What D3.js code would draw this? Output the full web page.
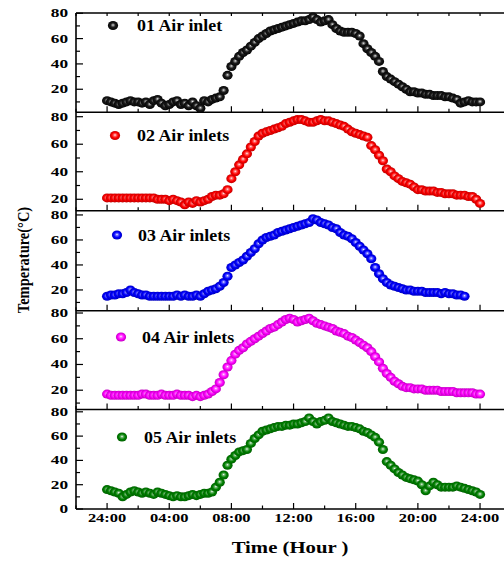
<!DOCTYPE html>
<html>
<head>
<meta charset="utf-8">
<script src="https://cdn.jsdelivr.net/npm/d3@7"></script>
<style>
  html, body { margin: 0; padding: 0; background: #fff; }
  svg { display: block; }
  text { font-family: "Liberation Serif", "Times New Roman", serif; font-weight: bold; fill: #000; }
</style>
</head>
<body>
<svg id="chart" width="504" height="569"></svg>
<script>
// Air temperature over one day, measured with 1 to 5 air inlets (15-minute readings)
const seriesNames = ["01 Air inlet", "02 Air inlets", "03 Air inlets", "04 Air inlets", "05 Air inlets"];
const seriesColors = ["#000000", "#ff0000", "#0000ff", "#ff00ff", "#008000"];

const inlet1 = [
  11, 10, 9, 8,   9, 10, 11, 10,   10, 9, 10, 8,   11, 12, 9, 7,
  8, 10, 11, 8,   9, 7, 10, 7,   5, 11, 10, 12,   13, 14, 19, 31,
  38, 42, 46, 49,   51, 54, 57, 60,   62, 64, 66, 67,   68, 69, 70, 71,
  72, 73, 74, 74,   75, 77, 75, 73,   74, 75, 71, 68,   66, 65, 65, 65,
  64, 62, 56, 52,   49, 46, 42, 34,   30, 28, 26, 24,   22, 20, 18, 18,
  17, 17, 16, 16,   15, 15, 15, 14,   14, 13, 12, 9,   10, 11, 10, 10,
  10
];
const inlet2 = [
  21, 21, 21, 21,   21, 21, 21, 21,   21, 21, 21, 21,   21, 20, 20, 20,
  19, 20, 19, 18,   16, 18, 17, 19,   18, 19, 20, 22,   23, 23, 24, 27,
  35, 40, 45, 49,   53, 58, 62, 66,   68, 69, 70, 71,   72, 73, 75, 76,
  77, 78, 78, 77,   76, 76, 77, 78,   77, 77, 76, 75,   74, 73, 71, 69,
  68, 67, 66, 65,   59, 56, 52, 48,   42, 40, 37, 35,   33, 32, 31, 29,
  27, 27, 26, 26,   26, 25, 25, 24,   24, 24, 23, 23,   23, 22, 22, 20,
  17
];
const inlet3 = [
  15, 16, 16, 17,   17, 18, 20, 18,   17, 16, 16, 15,   15, 15, 15, 15,
  15, 15, 16, 15,   16, 15, 15, 16,   15, 17, 19, 20,   21, 23, 26, 31,
  38, 40, 42, 44,   47, 50, 53, 57,   60, 62, 63, 64,   66, 67, 68, 69,
  70, 71, 72, 73,   74, 77, 76, 74,   73, 72, 70, 69,   66, 64, 63, 61,
  58, 55, 52, 49,   45, 38, 33, 29,   26, 24, 23, 22,   21, 20, 20, 19,
  19, 19, 18, 18,   18, 18, 17, 18,   17, 17, 16, 16,   15
];
const inlet4 = [
  17, 16, 16, 16,   16, 16, 16, 16,   16, 17, 17, 16,   16, 16, 17, 16,
  16, 16, 17, 16,   16, 16, 15, 16,   15, 16, 17, 19,   21, 26, 32, 38,
  43, 48, 51, 53,   56, 58, 60, 62,   64, 66, 68, 69,   71, 73, 75, 76,
  75, 73, 74, 75,   76, 74, 72, 71,   70, 69, 68, 66,   65, 64, 62, 61,
  59, 57, 55, 53,   50, 46, 42, 37,   33, 30, 27, 25,   23, 22, 22, 21,
  21, 21, 20, 20,   20, 20, 19, 19,   19, 19, 18, 18,   18, 18, 18, 17,
  17
];
const inlet5 = [
  16, 15, 14, 13,   10, 12, 14, 15,   14, 13, 14, 13,   12, 14, 13, 12,
  11, 10, 11, 10,   10, 11, 12, 11,   12, 13, 13, 14,   18, 22, 28, 36,
  41, 44, 47, 48,   49, 54, 58, 61,   64, 65, 66, 67,   68, 68, 69, 69,
  70, 70, 71, 72,   75, 72, 70, 72,   73, 75, 72, 71,   70, 69, 68, 68,
  67, 66, 64, 63,   61, 59, 55, 49,   39, 36, 33, 30,   28, 26, 25, 24,
  23, 20, 15, 19,   22, 20, 18, 18,   18, 18, 19, 18,   17, 16, 15, 14,
  12
];
const seriesValues = [inlet1, inlet2, inlet3, inlet4, inlet5];

// time axis: hours after midnight, one reading every quarter hour
const hours = d3.range(0, 24.001, 0.25);
const xTickHours = [0, 4, 8, 12, 16, 20, 24];
const xTickLabels = ["24:00", "04:00", "08:00", "12:00", "16:00", "20:00", "24:00"];
const yTickValues = [0, 20, 40, 60, 80];
const yMinorValues = [10, 30, 50, 70];

// stacked panel layout: pixel bands and value windows
const panelTop = [13, 112.3, 210.7, 310.7, 409.5];
const panelBottom = [112.3, 210.7, 310.7, 409.5, 509];
const panelDomain = [[1.8, 80.2], [11.7, 83.2], [3.4, 83.4], [5, 81.8], [0, 81.9]];
const legendPos = [[113, 25.5, 137, 31], [115, 135.5, 137, 141], [117, 235, 138, 240.5], [121, 337, 142, 342.5], [122, 437, 144, 442.5]];

const svg = d3.select("#chart");
const plotLeft = 76;
const x = d3.scaleLinear().domain([-2, 26]).range([plotLeft, plotLeft + 28 * 15.54]);
const plotRight = 506;

// sphere-shaded marker gradients
const defs = svg.append("defs");
function shade(c, k) { return d3.interpolateRgb(c, k > 0 ? "#ffffff" : "#000000")(Math.abs(k)); }
seriesColors.forEach((c, i) => {
  const g = defs.append("radialGradient").attr("id", "ball" + i)
    .attr("cx", "50%").attr("cy", "50%").attr("r", "55%").attr("fx", "50%").attr("fy", "44%");
  const black = c === "#000000";
  const light = black ? "#8a8a8a" : shade(c, 0.45);
  const mid = black ? "#1c1c1c" : c;
  const dark = black ? "#000000" : shade(c, -0.3);
  g.append("stop").attr("offset", "0%").attr("stop-color", "#ffffff");
  g.append("stop").attr("offset", black ? "16%" : "20%").attr("stop-color", light);
  g.append("stop").attr("offset", black ? "45%" : "55%").attr("stop-color", mid);
  g.append("stop").attr("offset", "100%").attr("stop-color", dark);
});

const rx = 5.1, ry = 4.5;

seriesValues.forEach((vals, i) => {
  const y = d3.scaleLinear().domain(panelDomain[i]).range([panelBottom[i], panelTop[i]]);
  const g = svg.append("g");

  // bottom edge of the panel with inward ticks
  g.append("line").attr("x1", plotLeft).attr("x2", plotRight)
    .attr("y1", panelBottom[i]).attr("y2", panelBottom[i])
    .attr("stroke", "#000").attr("stroke-width", 1.6);
  d3.range(-2, 26.01, 2).forEach(h => {
    const major = h % 4 === 0;
    g.append("line").attr("x1", x(h)).attr("x2", x(h))
      .attr("y1", panelBottom[i]).attr("y2", panelBottom[i] - (major ? 6 : 3.5))
      .attr("stroke", "#000").attr("stroke-width", 1.2);
  });
  if (i === 0) {
    g.append("line").attr("x1", plotLeft).attr("x2", plotRight)
      .attr("y1", panelTop[i]).attr("y2", panelTop[i])
      .attr("stroke", "#000").attr("stroke-width", 1.6);
    d3.range(-2, 26.01, 2).forEach(h => {
      g.append("line").attr("x1", x(h)).attr("x2", x(h))
        .attr("y1", panelTop[i]).attr("y2", panelTop[i] + 3)
        .attr("stroke", "#000").attr("stroke-width", 1.2);
    });
  }

  // left axis ticks and labels
  yTickValues.filter(v => v >= panelDomain[i][0] - 0.01 && v <= panelDomain[i][1]).forEach(v => {
    g.append("line").attr("x1", plotLeft).attr("x2", plotLeft + 7)
      .attr("y1", y(v)).attr("y2", y(v)).attr("stroke", "#000").attr("stroke-width", 1.2);
    g.append("text").attr("text-anchor", "end").attr("dominant-baseline", "central")
      .attr("font-size", 11.5)
      .attr("transform", `translate(68,${y(v)}) scale(1.5,1)`)
      .text(v);
  });
  yMinorValues.filter(v => v >= panelDomain[i][0] && v <= panelDomain[i][1]).forEach(v => {
    g.append("line").attr("x1", plotLeft).attr("x2", plotLeft + 4)
      .attr("y1", y(v)).attr("y2", y(v)).attr("stroke", "#000").attr("stroke-width", 1.2);
  });

  // readings
  g.selectAll("ellipse.pt").data(vals).join("ellipse").attr("class", "pt")
    .attr("cx", (d, k) => x(hours[k])).attr("cy", d => y(d))
    .attr("rx", rx).attr("ry", ry)
    .attr("fill", `url(#ball${i})`);

  // legend entry
  const [mx, my, tx, ty] = legendPos[i];
  g.append("ellipse").attr("cx", mx).attr("cy", my).attr("rx", rx).attr("ry", ry)
    .attr("fill", `url(#ball${i})`);
  g.append("text").attr("font-size", 16)
    .attr("transform", `translate(${tx},${ty}) scale(1.12,1)`)
    .text(seriesNames[i]);
});

// left axis line spanning all panels
svg.append("line").attr("x1", plotLeft).attr("x2", plotLeft)
  .attr("y1", panelTop[0]).attr("y2", panelBottom[4])
  .attr("stroke", "#000").attr("stroke-width", 1.6);

// time labels under the bottom panel
xTickHours.forEach((h, k) => {
  svg.append("text").attr("text-anchor", "middle").attr("font-size", 13.5)
    .attr("transform", `translate(${x(h)},522) scale(1.22,1)`)
    .text(xTickLabels[k]);
});

// axis titles
svg.append("text").attr("text-anchor", "middle").attr("font-size", 17)
  .attr("transform", "translate(290,553) scale(1.22,1)")
  .text("Time (Hour )");
svg.append("text").attr("text-anchor", "middle").attr("font-size", 14.5)
  .attr("transform", "translate(29,260) scale(1.2,1) rotate(-90)")
  .text("Temperature(°C)");
</script>
</body>
</html>
